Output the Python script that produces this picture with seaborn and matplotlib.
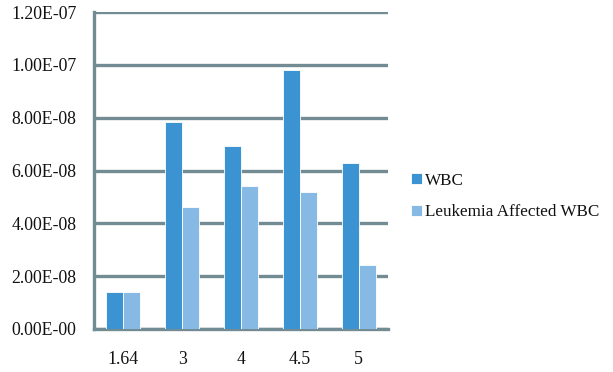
import matplotlib
matplotlib.use("Agg")
import matplotlib.pyplot as plt
import seaborn as sns
import pandas as pd

# Bar heights for each category
categories = ["1.64", "3", "4", "4.5", "5"]
wbc = [1.40e-8, 7.85e-8, 6.94e-8, 9.82e-8, 6.27e-8]
leukemia_wbc = [1.40e-8, 4.61e-8, 5.43e-8, 5.18e-8, 2.42e-8]
series_names = ["WBC", "Leukemia Affected WBC"]
y_ticks = [0.0, 2e-8, 4e-8, 6e-8, 8e-8, 1e-7, 1.2e-7]
y_tick_labels = ["0.00E-00", "2.00E-08", "4.00E-08", "6.00E-08",
                 "8.00E-08", "1.00E-07", "1.20E-07"]

df = pd.DataFrame({
    "category": categories * 2,
    "value": wbc + leukemia_wbc,
    "series": [series_names[0]] * len(categories) + [series_names[1]] * len(categories),
})

sns.set_theme(style="white")
plt.rcParams["font.family"] = ["Liberation Serif", "DejaVu Serif"]

line_color = "#738c94"
palette = {series_names[0]: "#3b93d1", series_names[1]: "#86bae4"}
font_size = 12.8

fig = plt.figure(figsize=(6.13, 3.72), dpi=100)
ax = fig.add_axes([0.1533, 0.1156, 0.4797, 0.8521])

sns.barplot(data=df, x="category", y="value", hue="series", order=categories,
            hue_order=series_names, palette=palette, width=0.58, gap=0,
            edgecolor="white", linewidth=0.6, saturation=1, ax=ax,
            legend=True, zorder=3)

ax.set_ylim(0, 1.2e-7)
ax.set_xlim(-0.5, len(categories) - 0.5)
ax.set_yticks(y_ticks)
ax.set_yticklabels(y_tick_labels, fontsize=font_size, color="#111111")
ax.set_xlabel("")
ax.set_ylabel("")

# Horizontal grid lines drawn behind bars
ax.yaxis.grid(True, color=line_color, linewidth=2.4, zorder=0)
ax.set_axisbelow(True)

# Category boundary ticks on x axis
ax.set_xticks([i - 0.5 for i in range(len(categories) + 1)], minor=False)
ax.set_xticklabels([""] * (len(categories) + 1))
ax.set_xticks(range(len(categories)), minor=True)
ax.set_xticklabels(categories, minor=True, fontsize=font_size, color="#111111")
ax.tick_params(axis="x", which="major", length=5, width=2.4, color=line_color, direction="out")
ax.tick_params(axis="x", which="minor", length=0, pad=16)
ax.tick_params(axis="y", length=4.5, width=2.4, color=line_color, pad=8)

for side in ["top", "right"]:
    ax.spines[side].set_visible(False)
for side in ["left", "bottom"]:
    ax.spines[side].set_color(line_color)
    ax.spines[side].set_linewidth(2.4)
    ax.spines[side].set_zorder(1)

handles, labels = ax.get_legend_handles_labels()
ax.get_legend().remove()
fig.legend(handles, labels, loc="center left", bbox_to_anchor=(0.657, 0.472),
           frameon=False, fontsize=12.3, handlelength=0.62, handleheight=0.62,
           handletextpad=0.2, labelspacing=0.9, borderpad=0,
           labelcolor="#111111")

fig.savefig("out.png", dpi=100)
